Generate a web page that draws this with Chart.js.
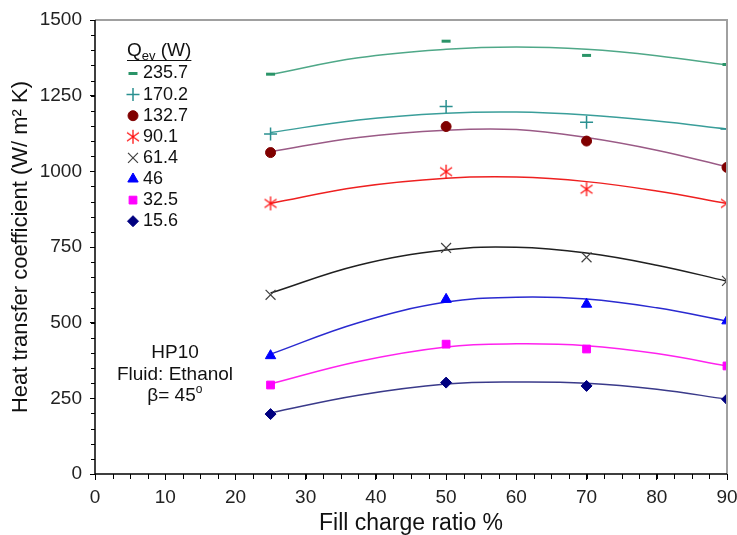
<!DOCTYPE html>
<html>
<head>
<meta charset="utf-8">
<script src="https://cdn.jsdelivr.net/npm/chart.js@4/dist/chart.umd.min.js"></script>
<style>
html,body{margin:0;padding:0;background:#fff;}
#wrap{width:737px;height:535px;position:relative;}
</style>
</head>
<body>
<div id="wrap"><canvas id="c" width="737" height="535"></canvas></div>
<script>
// ---- data ----
const fillRatio = [25, 50, 70, 90];
const trendX = [25, 37.5, 50, 60, 70, 80, 90];
const seriesNames = ['235.7', '170.2', '132.7', '90.1', '61.4', '46', '32.5', '15.6'];

const q235_7 = [1321, 1430, 1383, 1353];
const q170_2 = [1123, 1214, 1162, 1140];
const q132_7 = [1062, 1148, 1100, 1013];
const q90_1  = [894, 999, 941, 894];
const q61_4  = [592, 747, 716, 638];
const q46    = [391, 577, 561, 506];
const q32_5  = [294, 429, 413, 357];
const q15_6  = [198, 302, 291, 247];

// trend curves
const t235_7 = [1320, 1375, 1403, 1411, 1403, 1382, 1351];
const t170_2 = [1128, 1170, 1192, 1196, 1186, 1166, 1140];
const t132_7 = [1065, 1112, 1136, 1138, 1112, 1070, 1015];
const t90_1  = [894, 948, 977, 981, 966, 935, 894];
const t61_4  = [598, 690, 740, 749, 730, 690, 637];
const t46    = [396, 500, 568, 584, 578, 549, 505];
const t32_5  = [298, 372, 420, 430, 424, 398, 357];
const t15_6  = [202, 260, 297, 304, 300, 280, 247];

const yTicks = [0, 250, 500, 750, 1000, 1250, 1500];
const xTicks = [0, 10, 20, 30, 40, 50, 60, 70, 80, 90];

// ---- styles ----
function asteriskCanvas(color, r) {
  const s = r * 2 + 4, c = document.createElement('canvas');
  c.width = s; c.height = s;
  const g = c.getContext('2d');
  g.strokeStyle = color; g.lineWidth = 1.3;
  const m = s / 2;
  g.beginPath();
  g.moveTo(m - r * 0.85, m - r * 0.6); g.lineTo(m + r * 0.85, m + r * 0.6);
  g.moveTo(m + r * 0.85, m - r * 0.6); g.lineTo(m - r * 0.85, m + r * 0.6);
  g.moveTo(m, m - r); g.lineTo(m, m + r);
  g.stroke();
  return c;
}
const starImg = asteriskCanvas('#ff1010', 7);

const styles = [
  {mk: '#2a9468', ln: '#4fa888', ps: 'line', r: 4.5, bw: 3},
  {mk: '#2a9090', ln: '#3a9e9a', ps: 'cross', r: 6.5, bw: 1.5},
  {mk: '#800000', ln: '#9a5a86', ps: 'circle', r: 5, bw: 1},
  {mk: '#ff1010', ln: '#ee2020', ps: starImg, r: 7, bw: 1},
  {mk: '#404040', ln: '#202020', ps: 'crossRot', r: 7, bw: 1.2},
  {mk: '#0000ff', ln: '#2a2ad0', ps: 'triangle', r: 6, bw: 1},
  {mk: '#ff00ff', ln: '#ff22ee', ps: 'rect', r: 5.5, bw: 1},
  {mk: '#000080', ln: '#3a3a8a', ps: 'rectRot', r: 5.5, bw: 1}
];

const markerData = [q235_7, q170_2, q132_7, q90_1, q61_4, q46, q32_5, q15_6];
const trendData = [t235_7, t170_2, t132_7, t90_1, t61_4, t46, t32_5, t15_6];

const datasets = [];
trendData.forEach((arr, i) => {
  datasets.push({
    label: seriesNames[i] + ' fit',
    data: arr.map((v, k) => ({x: trendX[k], y: v})),
    borderColor: styles[i].ln, borderWidth: 1.5,
    pointRadius: 0, tension: 0.4, showLine: true, fill: false, order: 2
  });
});
markerData.forEach((arr, i) => {
  const s = styles[i];
  datasets.push({
    label: seriesNames[i],
    data: arr.map((v, k) => ({x: fillRatio[k], y: v})),
    showLine: false,
    pointStyle: s.ps, pointRadius: s.r, pointHoverRadius: s.r,
    pointBackgroundColor: s.mk, pointBorderColor: s.mk, pointBorderWidth: s.bw,
    order: 1
  });
});

const FONT = "'Liberation Sans', Arial, sans-serif";

const decorPlugin = {
  id: 'decor',
  afterDraw(chart) {
    const ctx = chart.ctx, a = chart.chartArea;
    const xs = chart.scales.x, ys = chart.scales.y;
    ctx.save();
    // top/right frame
    ctx.strokeStyle = '#a0a0a0'; ctx.lineWidth = 2;
    ctx.beginPath();
    ctx.moveTo(a.left, a.top); ctx.lineTo(a.right, a.top); ctx.lineTo(a.right, a.bottom);
    ctx.stroke();
    // minor ticks
    ctx.strokeStyle = '#000'; ctx.lineWidth = 1;
    ctx.beginPath();
    for (let v = 0; v <= 1500; v += 50) {
      const y = Math.round(ys.getPixelForValue(v)) + 0.5;
      ctx.moveTo(a.left - 4, y); ctx.lineTo(a.left, y);
    }
    for (let v = 0; v <= 90; v += 2.5) {
      const x = Math.round(xs.getPixelForValue(v)) + 0.5;
      ctx.moveTo(x, a.bottom); ctx.lineTo(x, a.bottom + 5);
    }
    ctx.stroke();
    // axes lines
    ctx.lineWidth = 1.5;
    ctx.beginPath();
    ctx.moveTo(a.left, a.top); ctx.lineTo(a.left, a.bottom); ctx.lineTo(a.right, a.bottom);
    ctx.stroke();

    // legend
    ctx.fillStyle = '#111';
    ctx.textBaseline = 'middle';
    ctx.textAlign = 'left';
    const lx = 127, ly = 51;
    ctx.font = '19px ' + FONT;
    ctx.fillText('Q', lx, ly);
    let w = ctx.measureText('Q').width;
    ctx.font = '13px ' + FONT;
    ctx.fillText('ev', lx + w, ly + 5);
    w += ctx.measureText('ev').width;
    ctx.font = '19px ' + FONT;
    ctx.fillText(' (W)', lx + w, ly);
    w += ctx.measureText(' (W)').width;
    ctx.strokeStyle = '#111'; ctx.lineWidth = 1;
    ctx.beginPath(); ctx.moveTo(lx, ly + 9.5); ctx.lineTo(lx + w, ly + 9.5); ctx.stroke();

    ctx.font = '18px ' + FONT;
    for (let i = 0; i < seriesNames.length; i++) {
      const y = 73.5 + i * 21.1;
      const s = styles[i];
      ctx.fillStyle = s.mk; ctx.strokeStyle = s.mk; ctx.lineWidth = s.bw;
      Chart.helpers.drawPoint(ctx, {pointStyle: s.ps, radius: s.r, rotation: 0, borderWidth: s.bw}, 133, y);
      ctx.fillStyle = '#111';
      ctx.fillText(seriesNames[i], 143, y);
    }

    // annotation
    ctx.textAlign = 'center';
    ctx.font = '19px ' + FONT;
    ctx.fillStyle = '#111';
    ctx.fillText('HP10', 175, 353);
    ctx.fillText('Fluid: Ethanol', 175, 375);
    const t1 = 'β= 45';
    const tw = ctx.measureText(t1).width;
    ctx.textAlign = 'left';
    ctx.fillText(t1, 175 - (tw + 7) / 2, 396);
    ctx.font = '12px ' + FONT;
    ctx.fillText('o', 175 - (tw + 7) / 2 + tw, 390);
    ctx.restore();
  }
};

new Chart(document.getElementById('c'), {
  type: 'scatter',
  data: {datasets},
  options: {
    responsive: false,
    animation: false,
    devicePixelRatio: 1,
    layout: {padding: {top: 20, right: 10, left: 0, bottom: 0}},
    plugins: {legend: {display: false}, tooltip: {enabled: false}},
    scales: {
      x: {
        type: 'linear', min: 0, max: 90,
        afterFit: s => { s.height = 61; s.paddingLeft = 0; s.paddingRight = 0; },
        afterBuildTicks: s => { s.ticks = xTicks.map(v => ({value: v})); },
        grid: {drawOnChartArea: false, drawTicks: true, tickLength: 6, color: '#000'},
        border: {display: false},
        ticks: {color: '#222', font: {family: FONT, size: 19}, padding: 6, maxRotation: 0,
                callback: v => String(v)},
        title: {display: true, text: 'Fill charge ratio %', color: '#111',
                font: {family: FONT, size: 23}, padding: {top: 0, bottom: -2}}
      },
      y: {
        type: 'linear', min: 0, max: 1500,
        afterFit: s => { s.width = 95; s.paddingTop = 0; s.paddingBottom = 0; },
        afterBuildTicks: s => { s.ticks = yTicks.map(v => ({value: v})); },
        grid: {drawOnChartArea: false, drawTicks: true, tickLength: 5, color: '#000'},
        border: {display: false},
        ticks: {color: '#222', font: {family: FONT, size: 19}, padding: 8,
                callback: v => String(v)},
        title: {display: true, text: 'Heat transfer coefficient (W/ m² K)', color: '#111',
                font: {family: FONT, size: 22}, padding: {top: 8, bottom: 0}}
      }
    }
  },
  plugins: [decorPlugin]
});
</script>
</body>
</html>
